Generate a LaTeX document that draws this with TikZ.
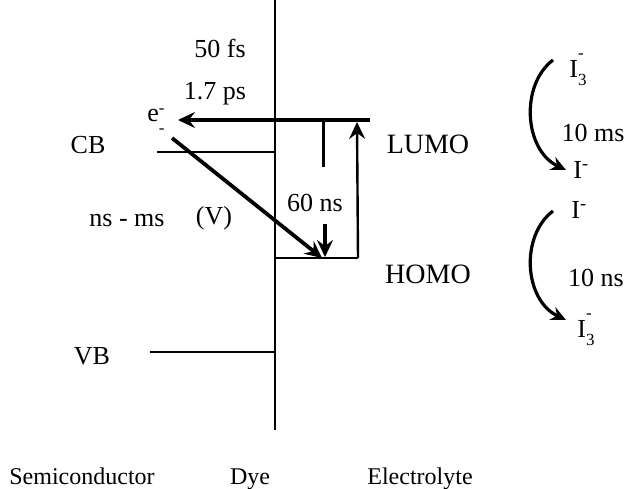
\documentclass[tikz,border=0pt]{standalone}
\usepackage{fontspec}
\setmainfont{Liberation Serif}
\usetikzlibrary{arrows.meta,positioning}
\tikzset{
  lbl/.style={inner sep=0pt, font=\fontsize{26}{28}\selectfont},
  footlbl/.style={inner sep=0pt, anchor=base, font=\fontsize{24}{26}\selectfont},
  levelbig/.style={inner sep=0pt, font=\fontsize{28}{30}\selectfont},
  level/.style={line width=2.4pt},
  thinlevel/.style={line width=1.4pt},
  fat/.style={-{Stealth[length=17pt,width=16pt,inset=6pt]}, line width=3.8pt},
  curvy/.style={-{Stealth[length=15pt,width=14pt,inset=5pt]}, line width=3.2pt}
}
\newcommand{\scr}{\fontsize{17}{17}\selectfont}
\newcommand{\ithree}{I\rlap{\raisebox{0.72em}{\scr -}}\raisebox{-0.32em}{\scr 3}}

\begin{document}
\begin{tikzpicture}[x=1pt, y=-1pt]
  \useasboundingbox (0,0) rectangle (627,488);

  % interface
  \coordinate (top) at (275,0);
  \coordinate (bot) at (275,430);
  \draw[line width=2.6pt] (top) -- (bot);

  % levels
  \coordinate (lumoL) at (275,120);
  \coordinate (lumoR) at (370,120);
  \coordinate (homoL) at (275,258);
  \coordinate (homoR) at (358,258);
  \coordinate (cbL) at (157,152);
  \coordinate (vbL) at (150,352);
  \draw[level] (lumoL) -- (lumoR);
  \draw[level] (homoL) -- (homoR);
  \draw[thinlevel] (cbL) -- (cbL -| top);
  \draw[level] (vbL) -- (vbL -| top);

  % labels
  \node[lbl] (fifty) at (220,48) {50 fs};
  \node[lbl] (onesev) at (215,94) {1.7 ps};
  \node[lbl] (elec) at (156,121) {e\raisebox{0.3em}{\scr -}\llap{\raisebox{-0.45em}{\scr -}}};
  \node[lbl] (cb) at (88,145) {CB};
  \node[lbl] (vb) at (92,356) {VB};
  \node[lbl] (nsms) at (127,220) {ns - ms};
  \node[lbl] (volt) at (214,218) {(V)};
  \node[lbl] (sixty) at (315,203) {60 ns};
  \node[levelbig] (lumo) at (428,144) {LUMO};
  \node[levelbig] (homo) at (428,274) {HOMO};

  % injection, recombination, relaxation
  \draw[fat] (lumoR) -- (178,120);
  \draw[fat] (172,138) -- (322,258);
  \draw[line width=3pt] (323,121) -- (323,167);
  \draw[fat] (325,224) -- (325,257);
  \draw[line width=2.4pt, -{Stealth[length=17pt,width=16pt,inset=6pt]}] (homoR) -- (357,122);

  % electrolyte
  \node[lbl] (ithA) at (578,70) {\ithree};
  \node[lbl] (tenms) at (593,133) {10 ms};
  \node[lbl] (iA) at (581,170) {I\textsuperscript{-}};
  \node[lbl] (iB) at (579,210) {I\textsuperscript{-}};
  \node[lbl] (tenns) at (596,278) {10 ns};
  \node[lbl] (ithB) at (586,330) {\ithree};
  \draw[curvy] (553,60) .. controls (520,85) and (524,150) .. (566,170);
  \draw[curvy] (553,211) .. controls (520,236) and (524,300) .. (566,320);

  % bottom
  \node[footlbl] (semi) at (82,484) {Semiconductor};
  \node[footlbl] (dye) at (250,484) {Dye};
  \node[footlbl] (electro) at (420,484) {Electrolyte};
\end{tikzpicture}
\end{document}
